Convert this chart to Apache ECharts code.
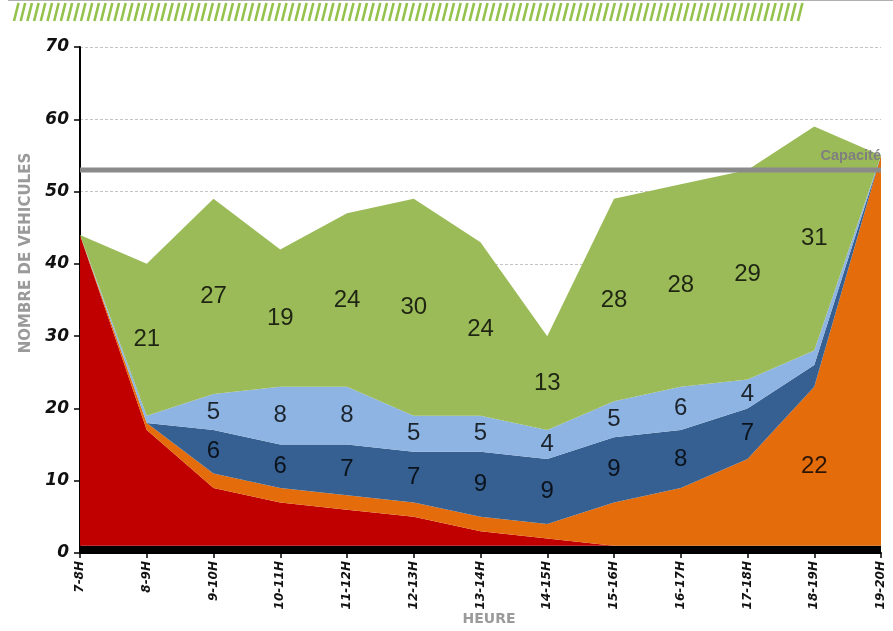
<!DOCTYPE html>
<html>
<head>
<meta charset="utf-8">
<script src="https://cdn.jsdelivr.net/npm/echarts@6/dist/echarts.min.js"></script>
<style>
html,body{margin:0;padding:0;background:#fff;}
#chart{width:893px;height:631px;}
</style>
</head>
<body>
<div id="chart"></div>
<script>
// ---- data ----
var categories = ['7-8H','8-9H','9-10H','10-11H','11-12H','12-13H','13-14H','14-15H','15-16H','16-17H','17-18H','18-19H','19-20H'];
var baseLayer = [1,1,1,1,1,1,1,1,1,1,1,1,1];
var redLayer = [43,16,8,6,5,4,2,1,0,0,0,0,0];
var orangeLayer = [0,1,2,2,2,2,2,2,6,8,12,22,54];
var darkBlueLayer = [0,0,6,6,7,7,9,9,9,8,7,3,0];
var lightBlueLayer = [0,1,5,8,8,5,5,4,5,6,4,2,0];
var greenLayer = [0,21,27,19,24,30,24,13,28,28,29,31,0];
var capacity = [53,53,53,53,53,53,53,53,53,53,53,53,53];
var yTicks = [0,10,20,30,40,50,60,70];
// which values are written on the chart
var orangeLabels = [null,null,null,null,null,null,null,null,null,null,null,22,null];
var darkBlueLabels = [null,null,6,6,7,7,9,9,9,8,7,null,null];
var lightBlueLabels = [null,null,5,8,8,5,5,4,5,6,4,null,null];
var greenLabels = [null,21,27,19,24,30,24,13,28,28,29,31,null];

var layers = [
  {name:'base', data: baseLayer, color:'#000000', labels:null},
  {name:'red', data: redLayer, color:'#C00000', labels:null},
  {name:'orange', data: orangeLayer, color:'#E46C0A', labels: orangeLabels},
  {name:'darkblue', data: darkBlueLayer, color:'#366092', labels: darkBlueLabels},
  {name:'lightblue', data: lightBlueLayer, color:'#8DB4E2', labels: lightBlueLabels},
  {name:'green', data: greenLayer, color:'#9BBB59', labels: greenLabels}
];

var series = [];
var cum = categories.map(function(){return 0;});
var labelPts = [];
layers.forEach(function(l){
  series.push({
    name: l.name, type:'line', stack:'total', data: l.data,
    symbol:'none', lineStyle:{width:0}, areaStyle:{color:l.color, opacity:1},
    itemStyle:{color:l.color}, z:2, silent:true
  });
  l.data.forEach(function(v,i){
    if (l.labels && l.labels[i] != null) {
      labelPts.push([i, cum[i] + v/2, l.labels[i]]);
    }
    cum[i] += v;
  });
});

series.push({
  name:'labels', type:'scatter', data: labelPts, symbolSize:0, z:5, silent:true,
  label:{show:true, position:'inside', formatter:function(p){return p.value[2];},
    fontFamily:'Liberation Sans', fontSize:24, color:'#000'}
});

series.push({
  name:'Capacité', type:'line', data: capacity, symbol:'none', z:4, silent:true,
  lineStyle:{color:'#8a8a8a', width:5},
  markLine:{silent:true, symbol:'none', lineStyle:{width:0, color:'#8a8a8a'},
    data:[{yAxis:53}],
    label:{show:true, position:'insideEndTop', formatter:'Capacité', color:'#7f7f7f',
      fontFamily:'Liberation Sans', fontWeight:'bold', fontSize:14.5, distance:[0,6]}}
});

// decoration slashes
var deco = [];
for (var k=0; k<118; k++) {
  var x0 = 14 + k*6.7;
  deco.push({type:'line', shape:{x1:x0, y1:21, x2:x0+4.5, y2:3},
    style:{stroke:'#95C24D', lineWidth:2.6}});
}
deco.push({type:'line', shape:{x1:8, y1:0.5, x2:893, y2:0.5}, style:{stroke:'#b0b0b0', lineWidth:1}});
deco.push({type:'text', x:26, y:253, rotation:Math.PI/2,
  style:{text:'NOMBRE DE VEHICULES', fill:'#9a9a9a', font:'bold 15px "DejaVu Sans"', align:'center', verticalAlign:'middle'}});
deco.push({type:'text', x:489, y:619,
  style:{text:'HEURE', fill:'#9a9a9a', font:'bold 14px "DejaVu Sans"', align:'center', verticalAlign:'middle'}});

var chart = echarts.init(document.getElementById('chart'));
chart.setOption({
  animation:false,
  backgroundColor:'#fff',
  grid:{left:80, right:12, top:47, bottom:78, containLabel:false},
  xAxis:{
    type:'category', data: categories, boundaryGap:false,
    axisLine:{show:true, lineStyle:{color:'#000', width:2}},
    axisTick:{show:true, length:5, lineStyle:{color:'#000', width:1.5}},
    axisLabel:{rotate:90, interval:0, margin:8, fontFamily:'DejaVu Sans', fontStyle:'italic', fontWeight:'bold', fontSize:12, color:'#111'},
    splitLine:{show:false}
  },
  yAxis:{
    type:'value', min:yTicks[0], max:yTicks[yTicks.length-1], interval:10,
    axisLine:{show:true, onZero:false, lineStyle:{color:'#000', width:2}},
    axisTick:{show:true, length:6, lineStyle:{color:'#000', width:1.5}},
    axisLabel:{margin:11, fontFamily:'DejaVu Sans', fontStyle:'italic', fontWeight:'bold', fontSize:17, color:'#111'},
    splitLine:{show:true, lineStyle:{color:'#c4c4c4', type:[3,2], width:1}}
  },
  graphic: deco,
  series: series
});
</script>
</body>
</html>
